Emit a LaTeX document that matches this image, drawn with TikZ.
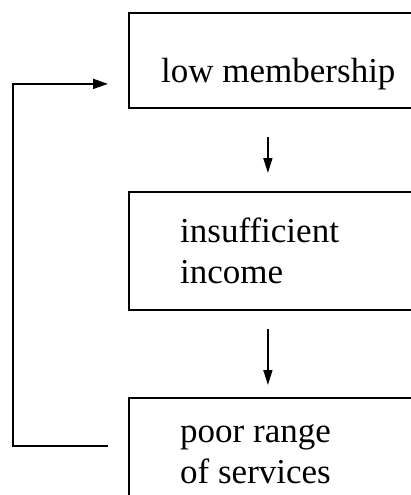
\documentclass[tikz,border=0pt]{standalone}
\usepackage{fontspec}
\setmainfont{Liberation Serif}
\usetikzlibrary{arrows.meta}
\begin{document}
\begin{tikzpicture}[x=1pt,y=-1pt,
  stagebox/.style={draw,line width=1.8pt,rectangle,inner sep=0pt,anchor=north west,minimum width=300pt},
  label/.style={inner sep=0pt,anchor=base west,align=left,
    font=\fontsize{35}{40.5}\selectfont},
  flow/.style={line width=1.6pt,-{Triangle[length=15pt,width=9pt]}},
  loop/.style={line width=1.8pt,-{Triangle[length=15pt,width=10pt]}}]
\useasboundingbox (0,0) rectangle (411,495);
\clip (0,0) rectangle (411,495);
% the three stages of the cycle
\node[stagebox,minimum height=95pt] (b1) at (128,12) {};
\node[stagebox,minimum height=118pt] (b2) at (128,191) {};
\node[stagebox,minimum height=140pt] (b3) at (128,397) {};
% multi-line labels sit on the baseline of their last line
\node[label] (t1) at (161,82) {low membership};
\node[label] (t2) at (180,283) {insufficient\\income};
\node[label] (t3) at (180,483) {poor range\\of services};
% downward steps
\draw[flow] ([xshift=-11pt,yshift=-28pt]b1.south) -- ([xshift=-11pt,yshift=18pt]b2.north);
\draw[flow] ([xshift=-11pt,yshift=-18pt]b2.south) -- ([xshift=-11pt,yshift=12pt]b3.north);
% feedback back to the top
\draw[loop] ([xshift=-20pt,yshift=-49pt]b3.north west) -- ++(-95,0)
  |- ([xshift=-20pt,yshift=-23.5pt]b1.west);
\end{tikzpicture}
\end{document}
